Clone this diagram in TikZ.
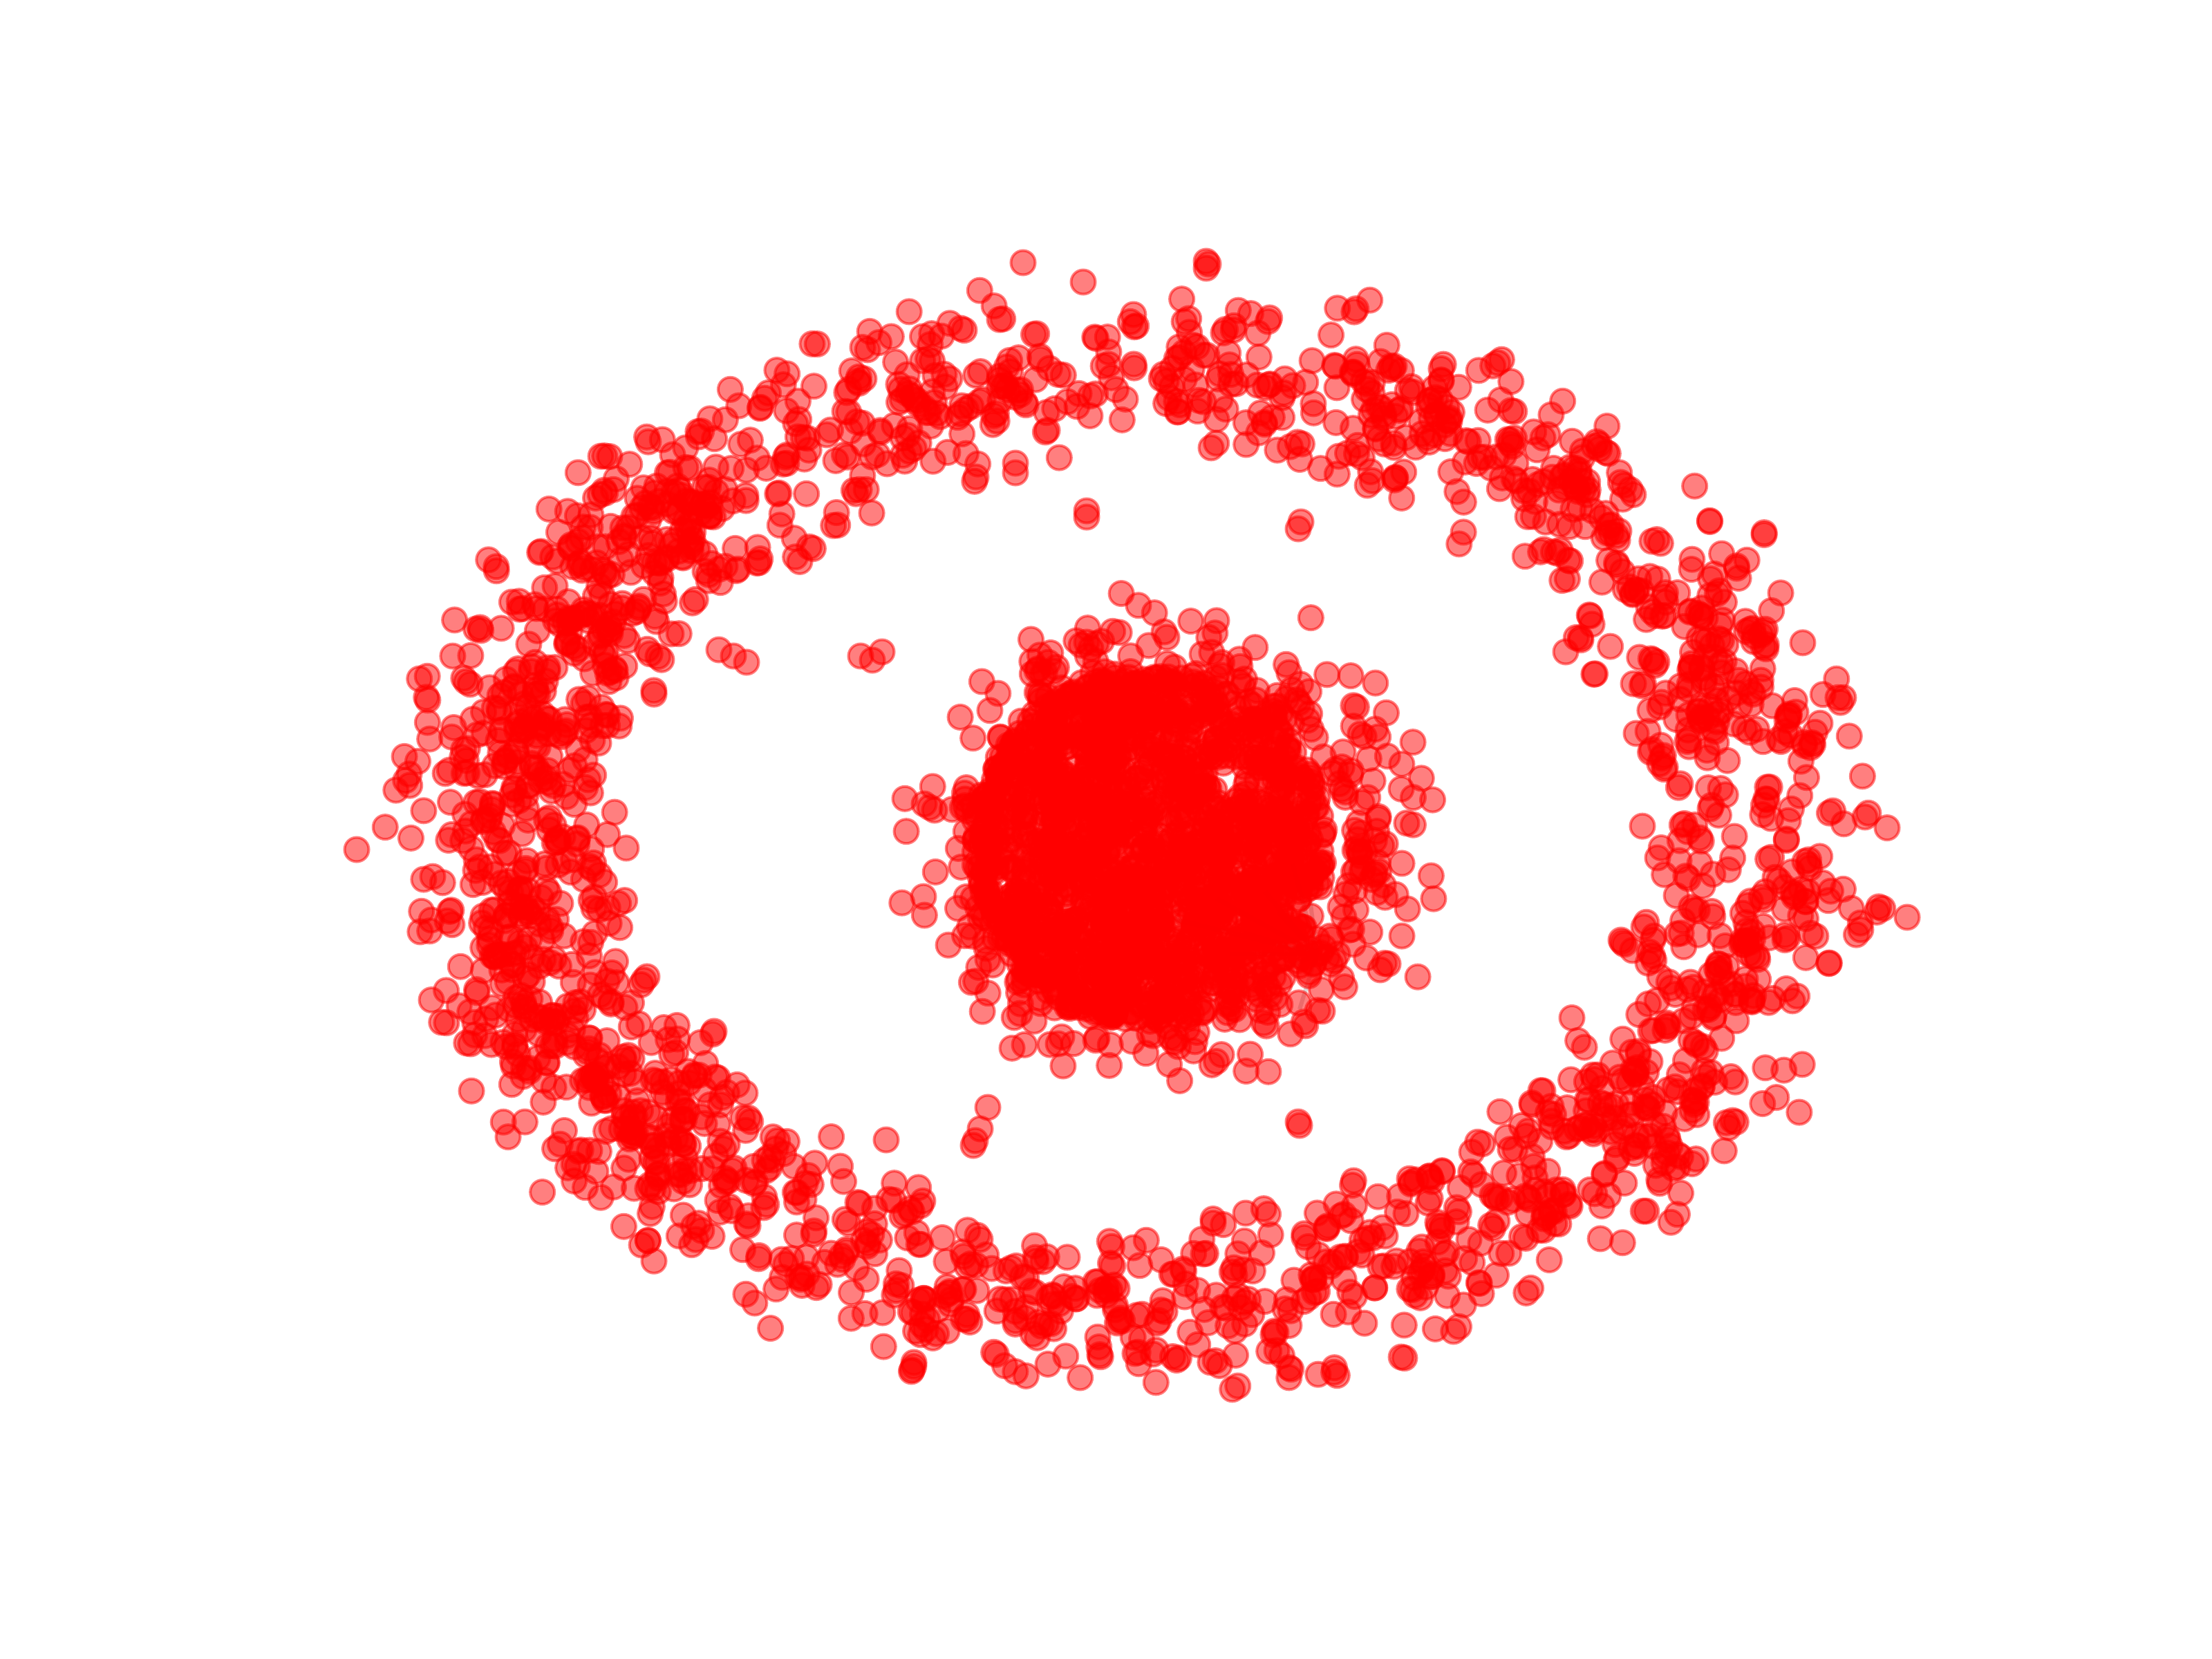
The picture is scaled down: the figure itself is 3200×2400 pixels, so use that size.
\documentclass[tikz,border=0pt]{standalone}
\usepackage{tikz}

\tikzset{
  dot/.style={draw=red,fill=red,opacity=0.5,line width=0.04cm},
  edge/.style={draw=gray!80!black,opacity=0.25,line width=0.06cm}
}

\begin{document}
\begin{tikzpicture}[x=0.01cm,y=-0.01cm]
\fill[white] (0,0) rectangle (3200,2400);
\useasboundingbox (0,0) rectangle (3200,2400);
\pgfmathsetseed{2024}

% edges fanning out of the small dense group right below the core
\coordinate (hub) at (1905,1380);
\foreach \p in {(1700,1330),(1760,1300),(1800,1350),(1830,1290),(1850,1320),(1870,1250),(1780,1380),(1895,1300),(1820,1420),(1880,1460)}
  \draw[edge] (hub) -- \p;

% outer ring
\foreach \i in {1,...,1600}{
  \pgfmathsetmacro\ang{360*rnd}
  \pgfmathsetmacro\frc{0.65+0.175*(rnd+rnd)}
  \pgfmathsetmacro\px{1643+1104*\frc*cos(\ang)}
  \pgfmathsetmacro\py{1209+824*\frc*sin(\ang)}
  \path[dot] (\px,\py) circle[radius=0.175cm];
  \pgfmathsetmacro\twin{rnd}
  \ifdim\twin pt<0.3pt
    \path[dot] ({\px+8*rand},{\py+8*rand}) circle[radius=0.175cm];
  \fi
}
% denser left side of the ring
\foreach \i in {1,...,220}{
  \pgfmathsetmacro\ang{130+100*rnd}
  \pgfmathsetmacro\frc{0.66+0.17*(rnd+rnd)}
  \path[dot] ({1643+1104*\frc*cos(\ang)},{1209+824*\frc*sin(\ang)}) circle[radius=0.175cm];
}

% dense core
\foreach \i in {1,...,1600}{
  \pgfmathsetmacro\ang{360*rnd}
  \pgfmathsetmacro\rad{sqrt(rnd)}
  \path[dot] ({1663+255*\rad*cos(\ang)},{1225+255*\rad*sin(\ang)}) circle[radius=0.175cm];
}
% ragged halo round the core
\foreach \i in {1,...,380}{
  \pgfmathsetmacro\ang{360*rnd}
  \pgfmathsetmacro\rad{235+150*rnd*rnd}
  \pgfmathsetmacro\sx{cos(\ang)>0 ? 1.25 : 1.0}
  \path[dot] ({1663+\sx*\rad*cos(\ang)},{1225+\rad*sin(\ang)}) circle[radius=0.175cm];
}
% solid bumps on the edge of the core
\foreach \x/\y in {1337/1163,1352/1172,1345/1168,1572/929,1578/938,1684/914,1688/922,1792/986,1798/992,
  1531/1510,1536/1500,1776/1465,1782/1458,1429/1388,1436/1396,1500/970,1508/976,1960/1230,1968/1238}
  \path[dot] (\x,\y) circle[radius=0.175cm];

% stacked group at the hub
\foreach \x/\y in {1905/1380,1925/1395,1915/1370,1935/1380,1900/1395,1920/1385}
  \path[dot] (\x,\y) circle[radius=0.175cm];

% loose nodes between ring and core
\foreach \x/\y in {1245/949,1276/943,1262/955,1061/949,1040/940,1080/958,1031/1496,1033/1492,
  1282/1649,1408/1657,1418/1633,1429/1602,1411/1650,1572/739,1572/748,1878/765,1882/755,
  1878/1623,1880/1628,1802/1755,2347/1363,2350/1366,2345/1360,2398/1241,2429/1245,2459/1249,
  2474/1170,2476/1165,2000/1776,2004/1788,1153/1725,1163/1735,1469/684,1412/690,1469/670,
  1745/378,1745/388,1748/382,1480/380,1567/408,516/1229,2759/1327,2367/1061,2384/1058,
  2265/943,857/1071,866/1075}
  \path[dot] (\x,\y) circle[radius=0.175cm];
\end{tikzpicture}
\end{document}
